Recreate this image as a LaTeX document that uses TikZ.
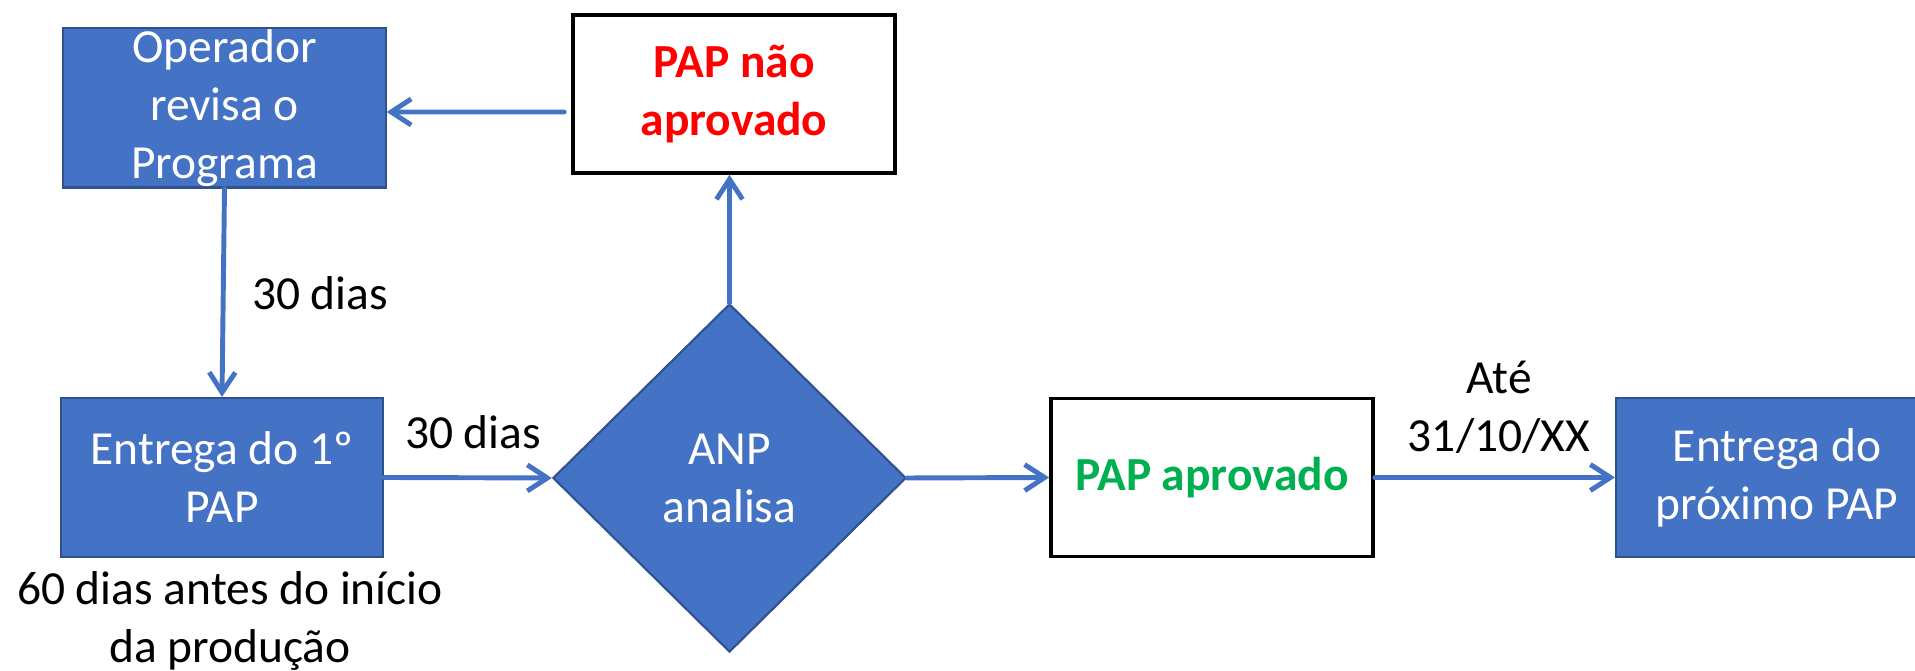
\documentclass[tikz,border=0pt]{standalone}
\usepackage{fontspec}
\setmainfont{Carlito}
\usetikzlibrary{shapes.geometric,arrows.meta}
\definecolor{azul}{HTML}{4472C4}
\definecolor{azulborda}{HTML}{2F528F}
\definecolor{vermelho}{HTML}{FF0000}
\definecolor{verde}{HTML}{00B050}
\tikzset{
    texto/.style={font=\fontsize{13.5}{16.5}\selectfont, align=center},
    caixa/.style={texto, draw=azulborda, line width=0.6pt, fill=azul, text=white,
        minimum width=3.22cm, minimum height=1.59cm, inner sep=0pt},
    caixabranca/.style={texto, font=\fontsize{13.5}{16.5}\selectfont\bfseries, draw=black,
        line width=1pt, fill=white, minimum width=3.22cm, minimum height=1.58cm, inner sep=0pt},
    losango/.style={texto, diamond, draw=azulborda, line width=0.6pt, fill=azul, text=white,
        minimum width=3.53cm, minimum height=3.48cm, inner sep=0pt},
    seta/.style={draw=azul, line width=1.4pt, line cap=round,
        -{Straight Barb[length=2mm,width=2.6mm]}},
}
\begin{document}
\begin{tikzpicture}[x=0.01cm,y=-0.01cm]
                \useasboundingbox (0,0) rectangle (1915,671);
                %% caixas
                \node[caixa] (oper) at (224.5,108) {Operador\\revisa o\\Programa};
                \node[caixabranca,text=vermelho] (naoap) at (734,94) {PAP não\\aprovado};
                \node[caixa] (entrega) at (222,477.5) {Entrega do 1º\\PAP};
                \node[losango] (anp) at (729.5,478) {ANP\\analisa};
                \node[caixabranca,text=verde] (aprov) at (1212,477.5) {PAP aprovado};
                \node[caixa] (prox) at (1777,477.5) {Entrega do\\próximo PAP};
                %% setas
                \draw[seta] ([xshift=-0.07cm,yshift=-0.18cm]naoap.west) -- ([yshift=-0.04cm]oper.east);
                \draw[seta] (oper.south) -- (entrega.north);
                \draw[seta] (entrega.east) -- (anp.west);
                \draw[seta] (anp.north) -- (anp.north |- naoap.south);
                \draw[seta] (anp.east) -- (aprov.west);
                \draw[seta] (aprov.east) -- (prox.west);
                %% prazos
                \node[texto] (prazorev) at (320,293) {30 dias};
                \node[texto] (prazoanp) at (473,432) {30 dias};
                \node[texto] (prazoprox) at (1499,407) {Até\\31/10/XX};
                \node[texto] (prazoini) at (230,621) {60 dias antes do início\\da produção};
            \end{tikzpicture}
\end{document}
